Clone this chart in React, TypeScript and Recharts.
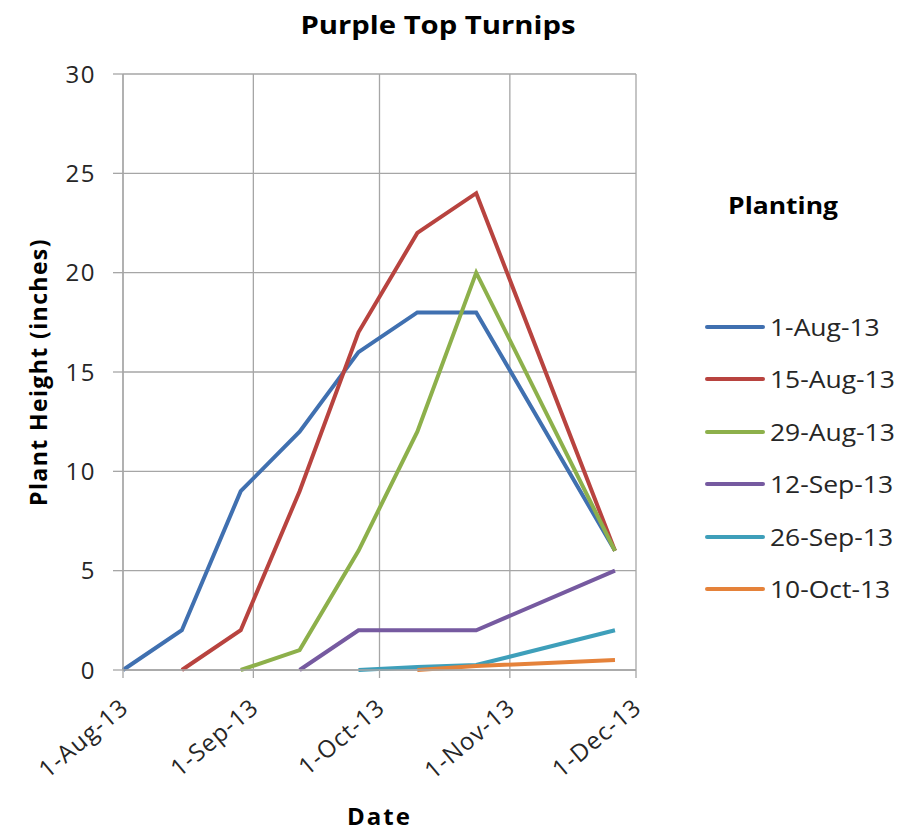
import { CartesianGrid, Line, LineChart, XAxis, YAxis } from "recharts"

// sampling dates (when heights were measured)
const sampleDates = [
  "2013-08-01",
  "2013-08-15",
  "2013-08-29",
  "2013-09-12",
  "2013-09-26",
  "2013-10-10",
  "2013-10-24",
  "2013-11-26",
]

// plant height (inches) per planting, null = not planted yet
const aug1 = [0, 2, 9, 12, 16, 18, 18, 6]
const aug15 = [null, 0, 2, 9, 17, 22, 24, 6]
const aug29 = [null, null, 0, 1, 6, 12, 20, 6]
const sep12 = [null, null, null, 0, 2, 2, 2, 5]
const sep26 = [null, null, null, null, 0, 0.15, 0.25, 2]
const oct10 = [null, null, null, null, null, 0, 0.2, 0.5]

const plantings = [
  { key: "p1", name: "1-Aug-13", values: aug1, color: "#4070B0" },
  { key: "p2", name: "15-Aug-13", values: aug15, color: "#B8433F" },
  { key: "p3", name: "29-Aug-13", values: aug29, color: "#8DB04B" },
  { key: "p4", name: "12-Sep-13", values: sep12, color: "#765AA0" },
  { key: "p5", name: "26-Sep-13", values: sep26, color: "#3E9FBA" },
  { key: "p6", name: "10-Oct-13", values: oct10, color: "#E5823A" },
]

const xTicks = ["2013-08-01", "2013-09-01", "2013-10-01", "2013-11-01", "2013-12-01"]
const yTicks = [0, 5, 10, 15, 20, 25, 30]

const MONTHS = ["Jan", "Feb", "Mar", "Apr", "May", "Jun", "Jul", "Aug", "Sep", "Oct", "Nov", "Dec"]
const toTs = (s: string) => Date.parse(s + "T00:00:00Z")
const fmtDate = (ts: number) => {
  const d = new Date(ts)
  return `${d.getUTCDate()}-${MONTHS[d.getUTCMonth()]}-${String(d.getUTCFullYear()).slice(2)}`
}

const data = sampleDates.map((d, i) => {
  const row: any = { date: toTs(d) }
  plantings.forEach((p) => {
    row[p.key] = p.values[i]
  })
  return row
})

const FONT = "'Open Sans', sans-serif"
const GRID = "#A6A6A6"
const TEXT = "#262626"

function YLabel({ viewBox }: any) {
  const cy = viewBox.y + viewBox.height / 2
  return (
    <text
      x={38}
      y={cy}
      transform={`rotate(-90, 38, ${cy})`}
      textAnchor="middle"
      dominantBaseline="central"
      fontFamily={FONT}
      fontWeight="bold"
      fontSize={23}
      letterSpacing={1.4}
      fill="#000"
    >
      Plant Height (inches)
    </text>
  )
}

function XTick({ x, y, payload }: any) {
  const ax = x + 7
  const ay = y + 22
  return (
    <text
      x={ax}
      y={ay}
      transform={`rotate(-40, ${ax}, ${ay})`}
      textAnchor="end"
      fontFamily={FONT}
      fontSize={24}
      letterSpacing={1}
      fill={TEXT}
    >
      {fmtDate(payload.value)}
    </text>
  )
}

export default function App() {
  return (
    <div style={{ position: "absolute", left: 0, top: 0, width: 900, height: 835, background: "#fff", fontFamily: FONT }}>
      <div
        style={{
          position: "absolute",
          left: 238,
          width: 400,
          top: 7,
          textAlign: "center",
          fontWeight: "bold",
          fontSize: 25,
          color: "#000",
          transform: "scaleX(1.17)",
        }}
      >
        Purple Top Turnips
      </div>
      <LineChart width={900} height={835} data={data} margin={{ top: 74, right: 264, bottom: 0, left: 0 }}>
        <CartesianGrid stroke={GRID} strokeWidth={1.3} />
        <XAxis
          dataKey="date"
          type="number"
          domain={[toTs(xTicks[0]), toTs(xTicks[xTicks.length - 1])]}
          ticks={xTicks.map(toTs)}
          tickFormatter={fmtDate}
          height={165}
          stroke={GRID}
          strokeWidth={1.3}
          tickSize={8}
          tickMargin={10}
          tick={<XTick />}
          label={{
            value: "Date",
            position: "insideBottom",
            offset: 10,
            fontSize: 24,
            fontWeight: "bold",
            letterSpacing: 2,
            fill: "#000",
            fontFamily: FONT,
          }}
        />
        <YAxis
          domain={[0, 30]}
          ticks={yTicks}
          width={123}
          stroke={GRID}
          strokeWidth={1.3}
          tickSize={10}
          tickMargin={17}
          tick={{ fontSize: 24, fill: TEXT, fontFamily: FONT, letterSpacing: 1.5 }}
          label={<YLabel />}
        />
        {plantings.map((p) => (
          <Line
            key={p.key}
            dataKey={p.key}
            name={p.name}
            type="linear"
            stroke={p.color}
            strokeWidth={4}
            dot={false}
            activeDot={false}
            isAnimationActive={false}
          />
        ))}
      </LineChart>
      <div
        style={{
          position: "absolute",
          left: 698,
          top: 189,
          width: 170,
          textAlign: "center",
          fontWeight: "bold",
          fontSize: 23,
          transform: "scaleX(1.15)",
        }}
      >
        Planting
      </div>
      {plantings.map((p, i) => (
        <div
          key={p.key}
          style={{ position: "absolute", left: 705, top: 311 + i * 52.4, height: 32, display: "flex", alignItems: "center" }}
        >
          <div style={{ width: 60, height: 4, borderRadius: 2, background: p.color, marginRight: 5 }} />
          <span
            style={{ fontSize: 23, color: TEXT, display: "inline-block", transform: "scaleX(1.15)", transformOrigin: "left center" }}
          >
            {p.name}
          </span>
        </div>
      ))}
    </div>
  )
}
